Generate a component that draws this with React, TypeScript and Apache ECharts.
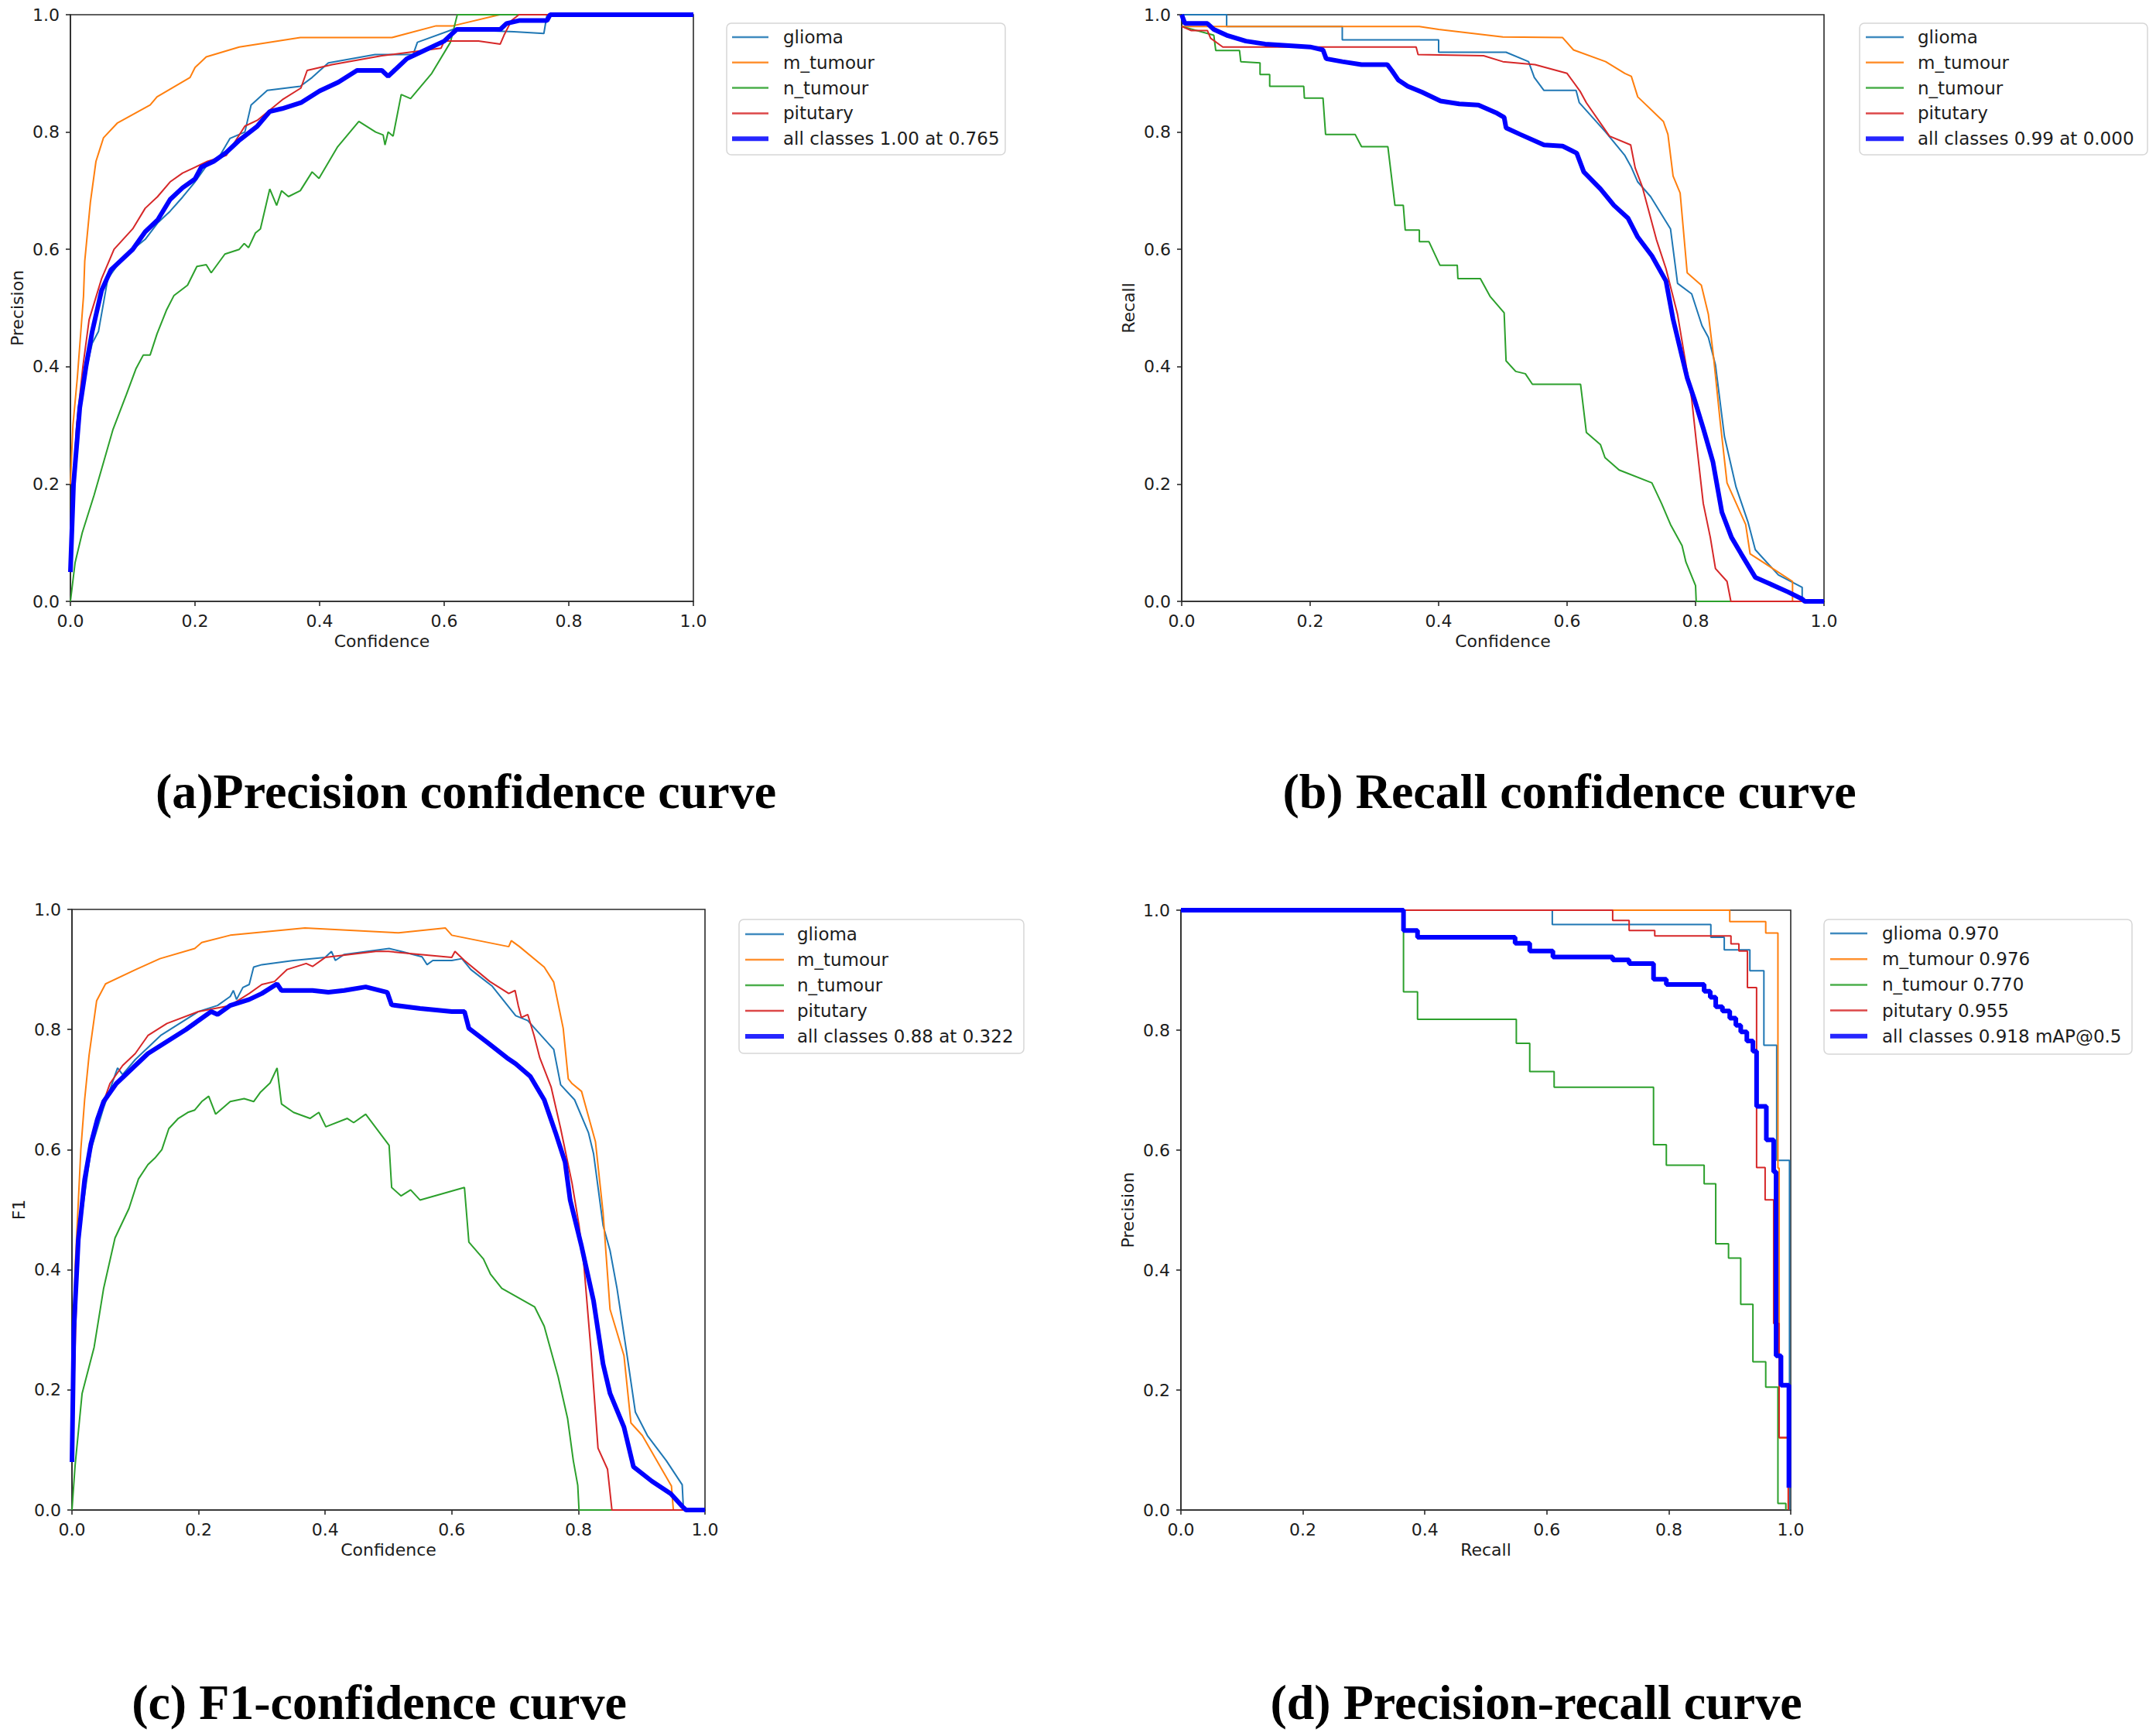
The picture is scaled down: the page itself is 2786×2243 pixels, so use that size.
import React, { useEffect, useRef } from "react";
import * as echarts from "echarts";

// ---------------- DATA ----------------
const classNames = ["glioma", "m_tumour", "n_tumour", "pitutary"];
const allLabels = [
  "all classes 1.00 at 0.765",
  "all classes 0.99 at 0.000",
  "all classes 0.88 at 0.322",
  "all classes 0.918 mAP@0.5",
];
const prClassLabels = ["glioma 0.970", "m_tumour 0.976", "n_tumour 0.770", "pitutary 0.955"];
const panelTitles = [
  "(a)Precision confidence curve",
  "(b) Recall confidence curve",
  "(c) F1-confidence curve",
  "(d) Precision-recall curve",
];
const xNames = ["Confidence", "Confidence", "Confidence", "Recall"];
const yNames = ["Precision", "Recall", "F1", "Precision"];

// (a) Precision vs confidence
const precGlioma = [[0,0.1],[0.01,0.3],[0.02,0.37],[0.035,0.44],[0.045,0.46],[0.06,0.55],[0.08,0.58],[0.1,0.6],[0.12,0.617],[0.14,0.645],[0.16,0.665],[0.18,0.689],[0.2,0.715],[0.218,0.742],[0.24,0.76],[0.256,0.789],[0.28,0.8],[0.29,0.846],[0.316,0.871],[0.369,0.878],[0.388,0.893],[0.414,0.918],[0.489,0.932],[0.55,0.932],[0.557,0.953],[0.614,0.975],[0.712,0.971],[0.76,0.968],[0.765,1.0],[1,1]];
const precMtumour = [[0,0.2],[0.004,0.3],[0.011,0.38],[0.021,0.52],[0.023,0.58],[0.032,0.68],[0.041,0.75],[0.047,0.77],[0.053,0.79],[0.075,0.815],[0.128,0.846],[0.139,0.86],[0.192,0.893],[0.2,0.91],[0.218,0.928],[0.271,0.945],[0.369,0.961],[0.516,0.961],[0.587,0.981],[0.614,0.981],[0.689,1.0],[1,1]];
const precNtumour = [[0,0],[0.0075,0.066],[0.019,0.117],[0.038,0.181],[0.068,0.292],[0.09,0.353],[0.105,0.396],[0.117,0.42],[0.128,0.42],[0.139,0.456],[0.154,0.496],[0.166,0.521],[0.188,0.539],[0.203,0.571],[0.218,0.574],[0.226,0.56],[0.248,0.592],[0.271,0.6],[0.279,0.61],[0.286,0.603],[0.297,0.628],[0.305,0.635],[0.32,0.703],[0.331,0.675],[0.339,0.7],[0.35,0.69],[0.369,0.7],[0.388,0.732],[0.399,0.721],[0.429,0.775],[0.463,0.818],[0.49,0.8],[0.502,0.795],[0.505,0.778],[0.51,0.8],[0.518,0.793],[0.531,0.864],[0.546,0.857],[0.58,0.9],[0.61,0.953],[0.621,1.0],[1,1]];
const precPitutary = [[0,0.1],[0.01,0.3],[0.02,0.4],[0.03,0.48],[0.05,0.55],[0.07,0.6],[0.1,0.635],[0.12,0.67],[0.14,0.69],[0.16,0.715],[0.18,0.73],[0.2,0.74],[0.22,0.75],[0.25,0.76],[0.28,0.81],[0.3,0.82],[0.34,0.855],[0.37,0.875],[0.38,0.905],[0.42,0.915],[0.5,0.93],[0.595,0.943],[0.6,0.955],[0.655,0.955],[0.69,0.95],[0.696,0.965],[0.708,0.99],[0.72,1.0],[1,1]];
const precAll = [[0,0.05],[0.005,0.2],[0.015,0.33],[0.025,0.4],[0.035,0.46],[0.05,0.53],[0.065,0.565],[0.08,0.58],[0.1,0.6],[0.12,0.63],[0.14,0.65],[0.16,0.685],[0.18,0.705],[0.2,0.72],[0.21,0.74],[0.23,0.75],[0.25,0.765],[0.27,0.785],[0.3,0.81],[0.32,0.835],[0.34,0.84],[0.37,0.85],[0.4,0.87],[0.43,0.885],[0.46,0.905],[0.5,0.905],[0.51,0.895],[0.52,0.905],[0.54,0.925],[0.56,0.935],[0.6,0.955],[0.62,0.975],[0.69,0.975],[0.7,0.985],[0.72,0.99],[0.765,0.99],[0.77,1.0],[1,1]];

// (b) Recall vs confidence
const recGlioma = [[0,1],[0.07,1],[0.07,0.98],[0.25,0.98],[0.25,0.957],[0.4,0.957],[0.4,0.936],[0.505,0.936],[0.54,0.92],[0.549,0.893],[0.564,0.871],[0.614,0.871],[0.619,0.85],[0.66,0.8],[0.69,0.76],[0.7,0.74],[0.71,0.715],[0.73,0.69],[0.761,0.635],[0.772,0.542],[0.794,0.524],[0.81,0.47],[0.82,0.45],[0.831,0.403],[0.845,0.281],[0.863,0.195],[0.882,0.134],[0.893,0.088],[0.929,0.045],[0.966,0.024],[0.966,0],[1,0]];
const recMtumour = [[0,0.98],[0.37,0.98],[0.4,0.975],[0.5,0.962],[0.593,0.961],[0.61,0.94],[0.66,0.92],[0.69,0.9],[0.7,0.895],[0.71,0.86],[0.75,0.818],[0.757,0.796],[0.765,0.725],[0.776,0.696],[0.787,0.56],[0.809,0.539],[0.82,0.489],[0.828,0.417],[0.838,0.31],[0.849,0.202],[0.878,0.131],[0.885,0.081],[0.951,0.034],[0.951,0],[1,0]];
const recNtumour = [[0,0.98],[0.05,0.965],[0.053,0.939],[0.09,0.939],[0.092,0.92],[0.122,0.918],[0.122,0.898],[0.137,0.898],[0.137,0.878],[0.19,0.878],[0.191,0.858],[0.22,0.858],[0.224,0.796],[0.27,0.796],[0.28,0.775],[0.321,0.775],[0.332,0.675],[0.345,0.675],[0.348,0.633],[0.37,0.633],[0.37,0.613],[0.385,0.613],[0.402,0.573],[0.429,0.573],[0.43,0.55],[0.465,0.55],[0.48,0.52],[0.502,0.492],[0.505,0.41],[0.52,0.392],[0.535,0.388],[0.546,0.37],[0.621,0.37],[0.63,0.288],[0.652,0.267],[0.659,0.245],[0.681,0.224],[0.732,0.202],[0.747,0.167],[0.761,0.131],[0.779,0.095],[0.785,0.067],[0.8,0.027],[0.801,0],[1,0]];
const recPitutary = [[0,0.98],[0.015,0.973],[0.04,0.973],[0.045,0.96],[0.064,0.945],[0.365,0.945],[0.368,0.932],[0.47,0.93],[0.5,0.92],[0.55,0.915],[0.6,0.9],[0.62,0.87],[0.63,0.85],[0.666,0.793],[0.699,0.778],[0.706,0.739],[0.717,0.707],[0.739,0.617],[0.754,0.567],[0.772,0.489],[0.783,0.417],[0.794,0.345],[0.801,0.274],[0.812,0.167],[0.823,0.109],[0.831,0.056],[0.849,0.034],[0.855,0],[1,0]];
const recAll = [[0,1],[0.005,0.985],[0.04,0.985],[0.05,0.975],[0.07,0.965],[0.1,0.955],[0.13,0.95],[0.2,0.945],[0.22,0.94],[0.225,0.925],[0.25,0.92],[0.28,0.915],[0.32,0.915],[0.327,0.905],[0.337,0.889],[0.352,0.878],[0.374,0.868],[0.403,0.853],[0.432,0.848],[0.462,0.846],[0.491,0.832],[0.502,0.825],[0.505,0.807],[0.527,0.796],[0.564,0.778],[0.593,0.776],[0.615,0.764],[0.626,0.732],[0.652,0.703],[0.673,0.675],[0.695,0.653],[0.71,0.621],[0.732,0.589],[0.754,0.546],[0.765,0.481],[0.779,0.417],[0.787,0.381],[0.798,0.345],[0.812,0.295],[0.827,0.238],[0.841,0.152],[0.856,0.109],[0.871,0.081],[0.893,0.041],[0.944,0.016],[0.966,0.004],[0.97,0],[1,0]];

// (c) F1 vs confidence
const f1Glioma = [[0,0.1],[0.005,0.3],[0.01,0.45],[0.03,0.6],[0.05,0.67],[0.065,0.715],[0.072,0.736],[0.08,0.725],[0.1,0.75],[0.14,0.79],[0.2,0.83],[0.23,0.84],[0.25,0.855],[0.255,0.865],[0.26,0.85],[0.27,0.87],[0.28,0.875],[0.287,0.904],[0.3,0.908],[0.35,0.915],[0.4,0.92],[0.41,0.93],[0.416,0.915],[0.43,0.925],[0.501,0.935],[0.52,0.93],[0.553,0.921],[0.561,0.908],[0.57,0.915],[0.6,0.915],[0.616,0.918],[0.63,0.9],[0.664,0.872],[0.701,0.823],[0.72,0.815],[0.731,0.802],[0.761,0.767],[0.772,0.708],[0.794,0.683],[0.816,0.628],[0.824,0.593],[0.839,0.474],[0.85,0.432],[0.861,0.369],[0.876,0.264],[0.89,0.163],[0.909,0.124],[0.939,0.082],[0.964,0.042],[0.966,0],[1,0]];
const f1Mtumour = [[0,0.15],[0.005,0.404],[0.014,0.6],[0.02,0.683],[0.027,0.757],[0.039,0.848],[0.053,0.876],[0.101,0.9],[0.139,0.918],[0.194,0.935],[0.205,0.945],[0.25,0.957],[0.368,0.969],[0.516,0.961],[0.59,0.969],[0.6,0.957],[0.69,0.938],[0.694,0.948],[0.707,0.938],[0.746,0.904],[0.761,0.879],[0.776,0.802],[0.784,0.718],[0.79,0.71],[0.805,0.697],[0.816,0.655],[0.827,0.613],[0.839,0.495],[0.85,0.334],[0.872,0.257],[0.883,0.145],[0.901,0.124],[0.947,0.04],[0.95,0],[1,0]];
const f1Ntumour = [[0,0],[0.005,0.075],[0.016,0.194],[0.035,0.271],[0.05,0.369],[0.068,0.453],[0.09,0.502],[0.105,0.551],[0.12,0.575],[0.131,0.586],[0.142,0.6],[0.153,0.635],[0.168,0.652],[0.183,0.662],[0.194,0.666],[0.205,0.68],[0.216,0.689],[0.227,0.659],[0.25,0.68],[0.272,0.685],[0.287,0.68],[0.298,0.696],[0.313,0.711],[0.324,0.736],[0.331,0.676],[0.35,0.662],[0.376,0.652],[0.39,0.662],[0.401,0.638],[0.435,0.652],[0.445,0.645],[0.464,0.659],[0.501,0.607],[0.505,0.537],[0.52,0.523],[0.535,0.533],[0.55,0.516],[0.62,0.537],[0.627,0.446],[0.65,0.418],[0.661,0.393],[0.679,0.369],[0.731,0.338],[0.746,0.306],[0.768,0.222],[0.783,0.152],[0.792,0.082],[0.799,0.041],[0.801,0],[1,0]];
const f1Pitutary = [[0,0.1],[0.01,0.45],[0.02,0.55],[0.04,0.65],[0.05,0.68],[0.06,0.71],[0.08,0.74],[0.1,0.76],[0.12,0.79],[0.15,0.81],[0.2,0.83],[0.25,0.84],[0.28,0.86],[0.3,0.875],[0.32,0.88],[0.34,0.9],[0.37,0.91],[0.38,0.905],[0.4,0.92],[0.48,0.93],[0.5,0.93],[0.55,0.925],[0.6,0.92],[0.605,0.93],[0.62,0.915],[0.66,0.88],[0.69,0.86],[0.7,0.865],[0.705,0.84],[0.71,0.82],[0.72,0.825],[0.73,0.79],[0.739,0.753],[0.757,0.704],[0.772,0.635],[0.79,0.544],[0.801,0.474],[0.809,0.404],[0.82,0.264],[0.831,0.103],[0.846,0.068],[0.853,0],[1,0]];
const f1All = [[0,0.08],[0.003,0.3],[0.01,0.45],[0.02,0.55],[0.03,0.61],[0.04,0.65],[0.05,0.68],[0.07,0.71],[0.09,0.73],[0.12,0.76],[0.15,0.78],[0.18,0.8],[0.2,0.815],[0.22,0.83],[0.23,0.825],[0.25,0.84],[0.28,0.85],[0.3,0.86],[0.324,0.876],[0.331,0.865],[0.35,0.865],[0.38,0.865],[0.405,0.862],[0.43,0.865],[0.464,0.871],[0.498,0.862],[0.505,0.841],[0.55,0.835],[0.6,0.83],[0.62,0.83],[0.627,0.802],[0.657,0.778],[0.687,0.753],[0.701,0.743],[0.724,0.722],[0.746,0.683],[0.764,0.628],[0.779,0.579],[0.787,0.516],[0.805,0.439],[0.824,0.348],[0.839,0.243],[0.85,0.194],[0.872,0.138],[0.887,0.072],[0.916,0.048],[0.946,0.027],[0.964,0.006],[0.97,0],[1,0]];

// (d) Precision vs recall (step points: recall where precision drops, new precision)
const prGlioma = [[0,1],[0.609,0.976],[0.869,0.955],[0.891,0.934],[0.933,0.899],[0.956,0.775],[0.977,0.583],[0.998,0]];
const prMtumour = [[0,1],[0.9,0.981],[0.959,0.962],[0.979,0.57],[0.981,0.12],[0.996,0]];
const prNtumour = [[0,1],[0.365,0.864],[0.388,0.818],[0.55,0.778],[0.572,0.731],[0.612,0.705],[0.775,0.609],[0.796,0.575],[0.858,0.544],[0.877,0.444],[0.898,0.42],[0.918,0.343],[0.938,0.247],[0.959,0.205],[0.979,0.011],[0.992,0]];
const prPitutary = [[0,1],[0.708,0.983],[0.735,0.966],[0.777,0.957],[0.902,0.944],[0.915,0.932],[0.929,0.871],[0.944,0.571],[0.958,0.517],[0.972,0.311],[0.981,0.121],[0.996,0]];
const prAll = [[0,1],[0.365,0.966],[0.388,0.955],[0.548,0.945],[0.572,0.932],[0.61,0.922],[0.708,0.917],[0.735,0.911],[0.775,0.885],[0.796,0.876],[0.858,0.865],[0.868,0.855],[0.877,0.839],[0.888,0.832],[0.9,0.82],[0.91,0.808],[0.918,0.797],[0.928,0.782],[0.938,0.765],[0.944,0.673],[0.96,0.617],[0.972,0.564],[0.976,0.257],[0.984,0.208],[0.997,0.037]];

// ---------------- STYLE / LAYOUT ----------------
const COLORS = ["#1f77b4", "#ff7f0e", "#2ca02c", "#d62728", "#0000ff"];
const TEXT = "#1c1c1c";
const SANS = "DejaVu Sans";

const panels = [
  { grid: { left: 91, top: 19, width: 805, height: 758 }, data: [precGlioma, precMtumour, precNtumour, precPitutary, precAll], step: false,
    legend: { x: 939, y: 30, w: 360, h: 170, lx1: 946, lx2: 993, tx: 1012, ry: 48, dy: 32.8 }, title: { x: 602, y: 1022 } },
  { grid: { left: 1527, top: 19, width: 830, height: 758 }, data: [recGlioma, recMtumour, recNtumour, recPitutary, recAll], step: false,
    legend: { x: 2403, y: 30, w: 372, h: 170, lx1: 2411, lx2: 2460, tx: 2478, ry: 48, dy: 32.8 }, title: { x: 2028, y: 1022 } },
  { grid: { left: 93, top: 1175, width: 818, height: 776 }, data: [f1Glioma, f1Mtumour, f1Ntumour, f1Pitutary, f1All], step: false,
    legend: { x: 955, y: 1188, w: 368, h: 173, lx1: 963, lx2: 1013, tx: 1030, ry: 1207, dy: 33 }, title: { x: 490, y: 2199 } },
  { grid: { left: 1526, top: 1176, width: 788, height: 775 }, data: [prGlioma, prMtumour, prNtumour, prPitutary, prAll], step: true,
    legend: { x: 2357, y: 1188, w: 398, h: 174, lx1: 2365, lx2: 2413, tx: 2432, ry: 1206, dy: 33.2 }, title: { x: 1985, y: 2199 } },
];

function legendLabels(i: number): string[] {
  const cls = i === 3 ? prClassLabels : classNames;
  return [...cls, allLabels[i]];
}

function buildOption() {
  const grid: any[] = [];
  const xAxis: any[] = [];
  const yAxis: any[] = [];
  const series: any[] = [];
  const graphic: any[] = [];

  panels.forEach((p, i) => {
    grid.push({ ...p.grid, show: true, borderColor: "#2b2b2b", borderWidth: 1.6, backgroundColor: "#fff", containLabel: false });
    const axisCommon = {
      gridIndex: i,
      type: "value",
      min: 0,
      max: 1,
      interval: 0.2,
      nameLocation: "middle",
      nameTextStyle: { fontSize: 22, fontFamily: SANS, color: TEXT },
      axisLine: { show: true, onZero: false, lineStyle: { color: "#2b2b2b", width: 1.6 } },
      axisTick: { show: true, length: 6, inside: false, lineStyle: { color: "#2b2b2b", width: 1.6 } },
      axisLabel: { margin: 14, fontSize: 22, fontFamily: SANS, color: TEXT, formatter: (v: number) => v.toFixed(1) },
      splitLine: { show: false },
    };
    xAxis.push({ ...axisCommon, name: xNames[i], nameGap: 40 });
    yAxis.push({ ...axisCommon, name: yNames[i], nameGap: 58 });

    const labels = legendLabels(i);
    p.data.forEach((d, k) => {
      series.push({
        name: labels[k],
        type: "line",
        xAxisIndex: i,
        yAxisIndex: i,
        data: d,
        step: p.step ? "end" : false,
        showSymbol: false,
        symbol: "none",
        smooth: false,
        clip: true,
        z: 2 + k,
        lineStyle: { color: COLORS[k], width: k === 4 ? 6 : 2 },
        itemStyle: { color: COLORS[k] },
      });
    });

    // legend box (matplotlib style)
    const L = p.legend;
    const children: any[] = [
      { type: "rect", shape: { x: L.x, y: L.y, width: L.w, height: L.h, r: 6 }, style: { fill: "#ffffff", stroke: "#d6d6d6", lineWidth: 1.5 } },
    ];
    labels.forEach((lab, k) => {
      const y = L.ry + k * L.dy;
      children.push({ type: "line", shape: { x1: L.lx1, y1: y, x2: L.lx2, y2: y }, style: { stroke: COLORS[k], lineWidth: k === 4 ? 6 : 2.5, opacity: 0.85 } });
      children.push({ type: "text", x: L.tx, y: y, style: { text: lab, fontSize: 23, fontFamily: SANS, fill: TEXT, align: "left", verticalAlign: "middle" } });
    });
    graphic.push({ type: "group", z: 100, children });

    graphic.push({
      type: "text",
      x: p.title.x,
      y: p.title.y,
      z: 100,
      style: { text: panelTitles[i], fontSize: 64, fontFamily: "Liberation Serif", fontWeight: "bold", fill: "#000", align: "center", verticalAlign: "middle" },
    });
  });

  return { animation: false, backgroundColor: "#ffffff", grid, xAxis, yAxis, series, graphic };
}

export default function App() {
  const ref = useRef<HTMLDivElement>(null);
  useEffect(() => {
    if (!ref.current) return;
    const chart = echarts.init(ref.current, undefined, { renderer: "svg" });
    chart.setOption(buildOption() as any);
    return () => chart.dispose();
  }, []);
  return (
    <div
      ref={ref}
      style={{ position: "fixed", left: 0, top: 0, width: "2786px", height: "2243px", background: "#fff" }}
    />
  );
}
